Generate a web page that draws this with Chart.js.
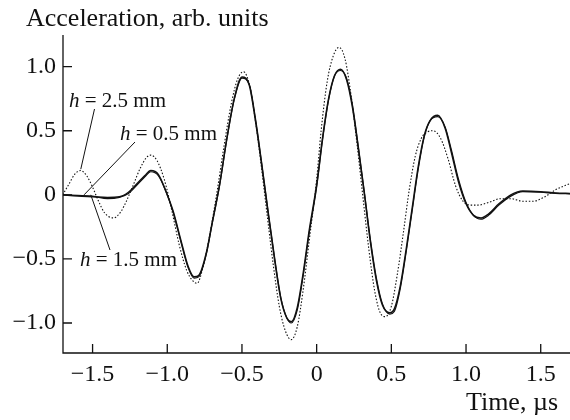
<!DOCTYPE html>
<html>
<head>
<meta charset="utf-8">
<script src="https://cdn.jsdelivr.net/npm/chart.js@4.4.1/dist/chart.umd.min.js"></script>
<style>
  html, body { margin: 0; padding: 0; background: #fff; }
  #wrap { width: 570px; height: 420px; }
</style>
</head>
<body>
<div id="wrap"><canvas id="c" width="570" height="420"></canvas></div>
<script>
// ---- Data ----
const xTicks = [-1.5, -1.0, -0.5, 0, 0.5, 1.0, 1.5];
const yTicks = [1.0, 0.5, 0, -0.5, -1.0];

// h = 0.5 mm (solid)
const t05 = [-1.70,-1.60,-1.50,-1.40,-1.32,-1.26,-1.20,-1.15,-1.11,-1.06,-1.01,-0.96,-0.91,-0.86,-0.82,-0.79,-0.74,-0.70,-0.65,-0.60,-0.55,-0.50,-0.45,-0.41,-0.37,-0.33,-0.28,-0.24,-0.20,-0.17,-0.13,-0.09,-0.05,0.00,0.04,0.08,0.12,0.16,0.20,0.24,0.28,0.32,0.36,0.40,0.44,0.49,0.52,0.56,0.60,0.64,0.68,0.72,0.76,0.81,0.86,0.90,0.95,1.00,1.05,1.10,1.15,1.22,1.30,1.38,1.50,1.60,1.70];
const a05 = [0.00,-0.01,-0.015,-0.02,-0.015,0.02,0.09,0.15,0.19,0.16,0.03,-0.13,-0.35,-0.56,-0.64,-0.63,-0.46,-0.22,0.08,0.45,0.76,0.92,0.85,0.58,0.25,-0.10,-0.52,-0.81,-0.96,-0.99,-0.88,-0.61,-0.28,0.08,0.45,0.75,0.93,0.98,0.90,0.68,0.35,0.00,-0.37,-0.67,-0.86,-0.92,-0.89,-0.71,-0.42,-0.10,0.22,0.46,0.58,0.62,0.52,0.34,0.10,-0.07,-0.16,-0.18,-0.15,-0.07,0.00,0.03,0.025,0.015,0.01];

// h = 1.5 mm (solid, almost on top of h = 0.5 mm)
const t15 = [-1.70,-1.60,-1.50,-1.40,-1.32,-1.26,-1.20,-1.15,-1.11,-1.06,-1.01,-0.96,-0.91,-0.86,-0.82,-0.79,-0.74,-0.70,-0.65,-0.60,-0.55,-0.50,-0.45,-0.41,-0.37,-0.33,-0.28,-0.24,-0.20,-0.17,-0.13,-0.09,-0.05,0.00,0.04,0.08,0.12,0.16,0.20,0.24,0.28,0.32,0.36,0.40,0.44,0.49,0.52,0.56,0.60,0.64,0.68,0.72,0.76,0.81,0.86,0.90,0.95,1.00,1.05,1.10,1.15,1.22,1.30,1.38,1.50,1.60,1.70];
const a15 = [0.00,-0.005,-0.01,-0.03,-0.02,0.01,0.08,0.14,0.18,0.15,0.03,-0.14,-0.36,-0.57,-0.65,-0.64,-0.47,-0.23,0.07,0.44,0.75,0.91,0.86,0.60,0.27,-0.08,-0.50,-0.80,-0.96,-1.00,-0.90,-0.63,-0.30,0.06,0.43,0.74,0.93,0.97,0.91,0.70,0.37,0.02,-0.35,-0.65,-0.85,-0.93,-0.91,-0.73,-0.44,-0.12,0.20,0.45,0.58,0.61,0.53,0.36,0.12,-0.06,-0.16,-0.19,-0.16,-0.08,-0.01,0.025,0.02,0.012,0.008];

// h = 2.5 mm (dotted)
const t25 = [-1.70,-1.66,-1.62,-1.58,-1.54,-1.50,-1.46,-1.42,-1.36,-1.31,-1.27,-1.23,-1.18,-1.14,-1.11,-1.07,-1.02,-0.97,-0.92,-0.87,-0.83,-0.80,-0.76,-0.72,-0.67,-0.62,-0.57,-0.53,-0.49,-0.45,-0.41,-0.37,-0.33,-0.29,-0.25,-0.21,-0.17,-0.13,-0.09,-0.05,0.00,0.03,0.07,0.11,0.15,0.19,0.23,0.27,0.31,0.35,0.39,0.43,0.46,0.50,0.54,0.58,0.62,0.66,0.70,0.74,0.78,0.83,0.88,0.93,0.98,1.03,1.08,1.15,1.23,1.30,1.38,1.45,1.52,1.60,1.70];
const a25 = [0.00,0.08,0.16,0.19,0.15,0.06,-0.05,-0.14,-0.18,-0.13,-0.04,0.07,0.21,0.29,0.31,0.27,0.12,-0.12,-0.39,-0.59,-0.67,-0.69,-0.56,-0.34,0.00,0.38,0.72,0.90,0.96,0.86,0.58,0.22,-0.17,-0.55,-0.87,-1.06,-1.13,-1.03,-0.74,-0.36,0.12,0.50,0.88,1.08,1.15,1.06,0.78,0.40,-0.02,-0.43,-0.76,-0.93,-0.95,-0.87,-0.62,-0.30,0.04,0.30,0.44,0.49,0.50,0.44,0.28,0.07,-0.05,-0.08,-0.08,-0.06,-0.03,-0.03,-0.05,-0.05,-0.02,0.04,0.09];

const pts = (t, a) => t.map((x, i) => ({ x, y: a[i] }));

const SERIF = '"Liberation Serif", "DejaVu Serif", serif';
const INK = '#111';

// Axes, inward ticks, tick labels, titles and curve labels
const frame = {
  id: 'frame',
  afterDraw(chart) {
    const { ctx, chartArea: ca, scales: { x, y } } = chart;
    ctx.save();
    ctx.strokeStyle = INK;
    ctx.fillStyle = INK;
    ctx.lineWidth = 1.3;

    // axis lines
    ctx.beginPath();
    ctx.moveTo(ca.left, ca.top);
    ctx.lineTo(ca.left, ca.bottom);
    ctx.lineTo(ca.right, ca.bottom);
    ctx.stroke();

    // ticks (inward)
    ctx.beginPath();
    xTicks.forEach(v => { const px = x.getPixelForValue(v); ctx.moveTo(px, ca.bottom); ctx.lineTo(px, ca.bottom - 9); });
    yTicks.forEach(v => { const py = y.getPixelForValue(v); ctx.moveTo(ca.left, py); ctx.lineTo(ca.left + 9, py); });
    ctx.stroke();

    const fmt = v => (v === 0 ? '0' : (v < 0 ? '\u2212' : '') + Math.abs(v).toFixed(1));

    ctx.font = '24px ' + SERIF;
    ctx.textBaseline = 'middle';
    ctx.textAlign = 'right';
    yTicks.forEach(v => ctx.fillText(fmt(v), ca.left - 7, y.getPixelForValue(v)));
    ctx.textAlign = 'center';
    ctx.textBaseline = 'alphabetic';
    xTicks.forEach(v => ctx.fillText(fmt(v), x.getPixelForValue(v), ca.bottom + 28));

    // axis titles
    ctx.font = '26px ' + SERIF;
    ctx.textAlign = 'left';
    ctx.fillText('Acceleration, arb. units', 26, 26);
    ctx.textAlign = 'right';
    ctx.fillText('Time, \u00b5s', 558, 410);

    // curve labels with leader lines
    const label = (txt, lx, ly) => {
      ctx.textAlign = 'left';
      ctx.textBaseline = 'middle';
      ctx.font = 'italic 21px ' + SERIF;
      ctx.fillText('h', lx, ly);
      const w = ctx.measureText('h').width;
      ctx.font = '21px ' + SERIF;
      ctx.fillText(' = ' + txt, lx + w, ly);
    };
    label('2.5 mm', 69, 101);
    label('0.5 mm', 120, 134);
    label('1.5 mm', 80, 260);

    ctx.lineWidth = 1;
    ctx.beginPath();
    ctx.moveTo(94.5, 109); ctx.lineTo(x.getPixelForValue(-1.579), y.getPixelForValue(0.20));
    ctx.moveTo(135, 142); ctx.lineTo(x.getPixelForValue(-1.557), y.getPixelForValue(0.0));
    ctx.moveTo(x.getPixelForValue(-1.512), y.getPixelForValue(0.0)); ctx.lineTo(110, 250);
    ctx.stroke();
    ctx.restore();
  }
};

new Chart(document.getElementById('c'), {
  type: 'line',
  data: {
    datasets: [
      { label: 'h = 0.5 mm', data: pts(t05, a05), borderColor: INK, borderWidth: 1.5 },
      { label: 'h = 1.5 mm', data: pts(t15, a15), borderColor: INK, borderWidth: 1.2 },
      { label: 'h = 2.5 mm', data: pts(t25, a25), borderColor: INK, borderWidth: 1.1, borderDash: [1.5, 1.8] }
    ]
  },
  options: {
    responsive: false,
    animation: false,
    layout: { padding: { left: 63, top: 35, right: 0, bottom: 67 } },
    elements: { point: { radius: 0 }, line: { cubicInterpolationMode: 'monotone', fill: false } },
    plugins: { legend: { display: false }, tooltip: { enabled: false } },
    scales: {
      x: { type: 'linear', min: -1.698, max: 1.696, display: false },
      y: { type: 'linear', min: -1.234, max: 1.247, display: false }
    }
  },
  plugins: [frame]
});
</script>
</body>
</html>
